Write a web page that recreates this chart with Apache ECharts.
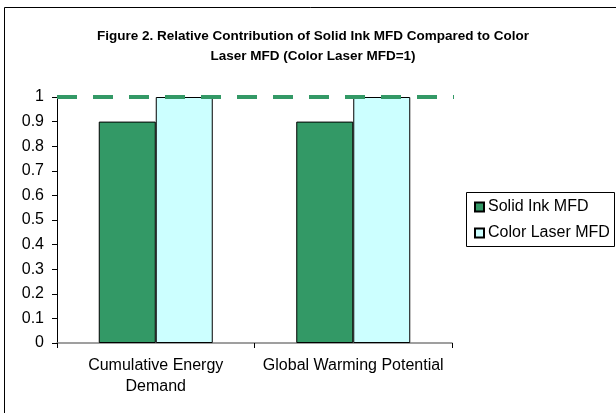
<!DOCTYPE html>
<html>
<head>
<meta charset="utf-8">
<style>
  html, body { margin: 0; padding: 0; background: #ffffff; }
  #chart { width: 616px; height: 413px; }
</style>
<script src="https://cdn.jsdelivr.net/npm/echarts@6/dist/echarts.min.js"></script>
</head>
<body>
<div id="chart"></div>
<script>
// Impact categories on the x axis
const categories = ['Cumulative Energy\nDemand', 'Global Warming Potential'];
// Relative contribution, Color Laser MFD normalised to 1
const solidInk = [0.9, 0.9];
const colorLaser = [1, 1];
// Reference level (Color Laser MFD = 1)
const referenceLevel = 1;
// Value axis ticks
const yTicks = [0, 0.1, 0.2, 0.3, 0.4, 0.5, 0.6, 0.7, 0.8, 0.9, 1];

const FONT = '"Liberation Sans", Arial, sans-serif';
const chart = echarts.init(document.getElementById('chart'), null, { renderer: 'canvas' });

chart.setOption({
  animation: false,
  backgroundColor: '#ffffff',
  title: {
    text: 'Figure 2. Relative Contribution of Solid Ink MFD Compared to Color\nLaser MFD (Color Laser MFD=1)',
    left: 308,
    top: 21,
    textAlign: 'center',
    textStyle: { fontFamily: FONT, fontSize: 13.5, fontWeight: 'bold', color: '#000', lineHeight: 20 }
  },
  legend: {
    orient: 'vertical',
    left: 466,
    top: 194,
    padding: [5, 4, 7, 8],
    itemWidth: 9,
    itemHeight: 9,
    itemGap: 10,
    icon: 'rect',
    textStyle: { fontFamily: FONT, fontSize: 16, color: '#000', lineHeight: 16, padding: [0, 0, 0, -1] },
    data: ['Solid Ink MFD', 'Color Laser MFD']
  },
  grid: { left: 57, right: 164, top: 97, bottom: 70, containLabel: false },
  xAxis: [
    {
      type: 'category',
      data: categories,
      axisLine: { lineStyle: { color: '#808080', width: 1.5 } },
      axisTick: { show: true, length: 5, lineStyle: { color: '#000' } },
      axisLabel: { fontFamily: FONT, fontSize: 16, color: '#000', lineHeight: 21, margin: 12, interval: 0 }
    },
    {
      // helper axis spanning the plot width for the reference line
      type: 'value', min: 0, max: 1, show: false, gridIndex: 0
    }
  ],
  yAxis: {
    type: 'value',
    min: 0,
    max: 1,
    interval: 0.1,
    splitLine: { show: false },
    axisLine: { show: true, lineStyle: { color: '#000', width: 1 } },
    axisTick: { show: true, length: 5, lineStyle: { color: '#000' } },
    axisLabel: {
      fontFamily: FONT, fontSize: 16, color: '#000', margin: 13,
      formatter: v => {
        const t = yTicks.find(x => Math.abs(x - v) < 1e-9);
        return t === undefined ? '' : String(t);
      }
    }
  },
  series: [
    {
      name: 'Solid Ink MFD',
      type: 'bar',
      data: solidInk,
      barWidth: 57,
      barGap: '0%',
      itemStyle: { color: '#339966', borderColor: '#000', borderWidth: 1 }
    },
    {
      name: 'Color Laser MFD',
      type: 'bar',
      data: colorLaser,
      barWidth: 57,
      barGap: '0%',
      itemStyle: { color: '#CCFFFF', borderColor: '#000', borderWidth: 1 }
    },
    {
      name: 'Reference',
      type: 'line',
      xAxisIndex: 1,
      data: [[0, referenceLevel], [1.0228, referenceLevel]],
      clip: false,
      symbol: 'none',
      z: 5,
      lineStyle: { color: '#339966', width: 4, type: [20, 16], cap: 'butt' },
      silent: true
    }
  ],
  graphic: [
    {
      type: 'rect',
      shape: { x: 4.5, y: 7.5, width: 640, height: 440 },
      style: { fill: 'none', stroke: '#000', lineWidth: 1 },
      z: -1
    },
    {
      type: 'rect',
      shape: { x: 466.5, y: 192.5, width: 148, height: 54 },
      style: { fill: 'none', stroke: '#000', lineWidth: 1 }
    }
  ]
});
</script>
</body>
</html>
